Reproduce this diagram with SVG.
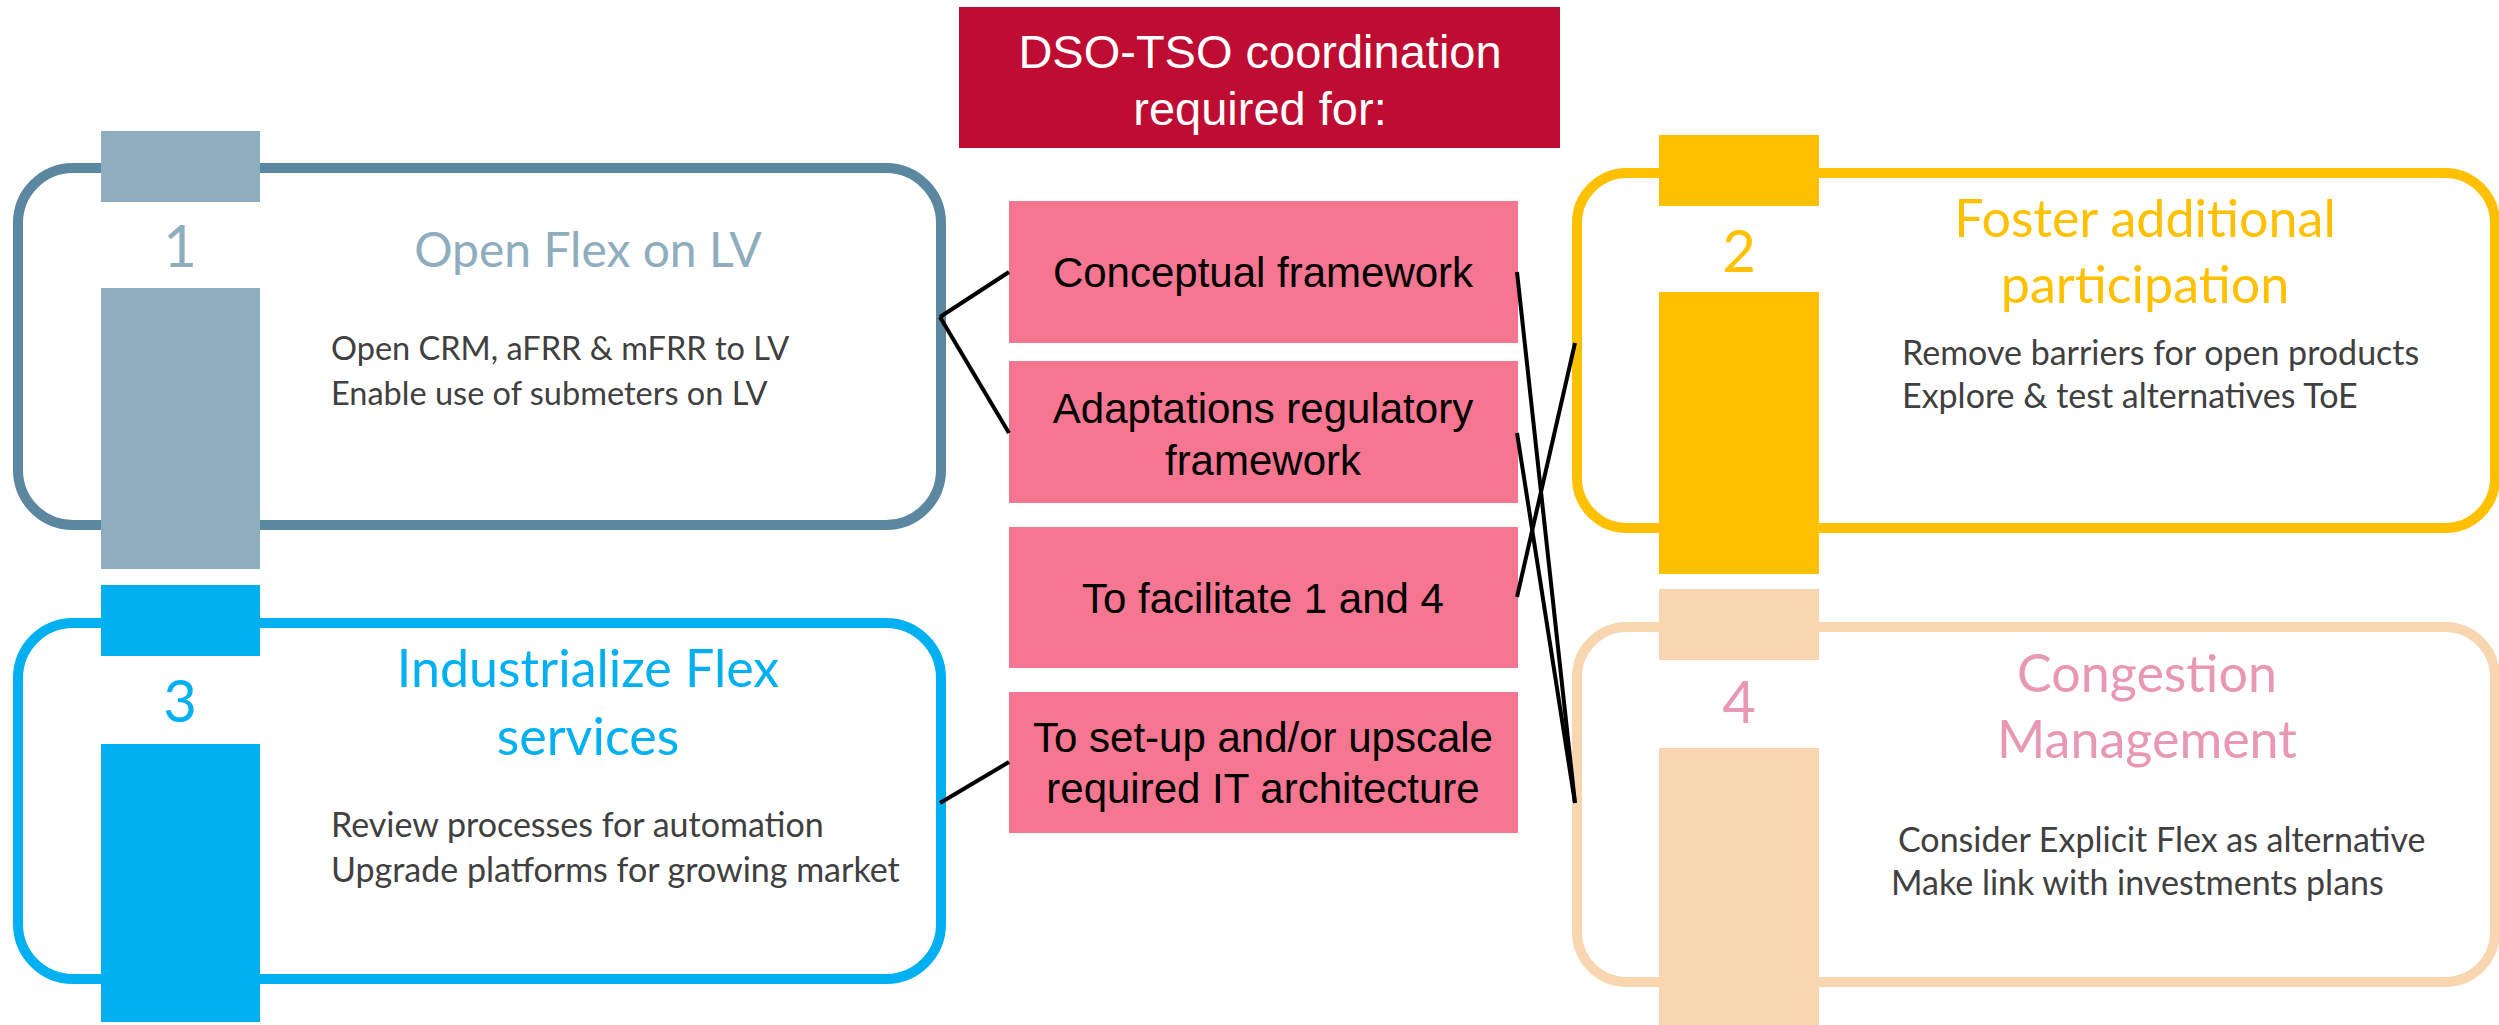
<svg xmlns="http://www.w3.org/2000/svg" width="2499" height="1025" viewBox="0 0 2499 1025">
<style>
.frame{fill:#fff;stroke-width:10}
.num{font-family:Lato,"Open Sans","Noto Sans",sans-serif;font-size:58px;text-anchor:middle}
.title{font-family:Lato,"Open Sans","Noto Sans",sans-serif;font-size:52px;text-anchor:middle}
.body{font-family:Lato,"Open Sans","Noto Sans",sans-serif;font-size:34px;fill:#404040}
.pink{fill:#F47690}
.ptext{font-family:"Liberation Sans",Arial,sans-serif;font-size:42px;text-anchor:middle;fill:#000}
.head{font-family:"Liberation Sans",Arial,sans-serif;font-size:47px;text-anchor:middle;fill:#fff}
.conn{stroke:#000;stroke-width:4;fill:none}
</style>
<rect width="2499" height="1025" fill="#fff"/>

<g id="header">
<rect x="959" y="7" width="601" height="141" fill="#BE0C32"/>
<text class="head" x="1260" y="68">DSO-TSO coordination</text>
<text class="head" x="1260" y="125">required for:</text>
</g>

<g id="box1">
<rect class="frame" x="18" y="168" width="923" height="357" rx="55" stroke="#5B87A0"/>
<rect x="101" y="131" width="159" height="71" fill="#8EADBE"/>
<rect x="101" y="288" width="159" height="281" fill="#8EADBE"/>
<text class="num" x="180" y="267" fill="#8EADBE">1</text>
<text class="title" x="588" y="267" fill="#8EADBE" style="font-size:48px">Open Flex on LV</text>
<text class="body" x="331" y="360" style="font-size:32.5px">Open CRM, aFRR &amp; mFRR to LV</text>
<text class="body" x="331" y="405" style="font-size:32.5px">Enable use of submeters on LV</text>
</g>

<g id="box3">
<rect class="frame" x="18" y="623" width="923" height="356" rx="55" stroke="#00B0F0"/>
<rect x="101" y="585" width="159" height="71" fill="#00B0F0"/>
<rect x="101" y="744" width="159" height="278" fill="#00B0F0"/>
<text class="num" x="180" y="722" fill="#00B0F0">3</text>
<text class="title" x="588" y="687" fill="#00B0F0">Industrialize Flex</text>
<text class="title" x="588" y="755" fill="#00B0F0">services</text>
<text class="body" x="331" y="837">Review processes for automation</text>
<text class="body" x="331" y="882">Upgrade platforms for growing market</text>
</g>

<g id="box2">
<rect class="frame" x="1577" y="173" width="918" height="355" rx="50" stroke="#FFC000"/>
<rect x="1659" y="135" width="160" height="71" fill="#FFC000"/>
<rect x="1659" y="292" width="160" height="282" fill="#FFC000"/>
<text class="num" x="1739" y="272" fill="#FFC000">2</text>
<text class="title" x="2145" y="237" fill="#FFC000">Foster additional</text>
<text class="title" x="2145" y="303" fill="#FFC000">participation</text>
<text class="body" x="1902" y="365">Remove barriers for open products</text>
<text class="body" x="1902" y="408">Explore &amp; test alternatives ToE</text>
</g>

<g id="box4">
<rect class="frame" x="1577" y="627" width="918" height="355" rx="50" stroke="#F8D6B0"/>
<rect x="1659" y="589" width="160" height="71" fill="#F8D6B0"/>
<rect x="1659" y="748" width="160" height="277" fill="#F8D6B0"/>
<text class="num" x="1739" y="723" fill="#E898B4">4</text>
<text class="title" x="2147" y="692" fill="#E898B4">Congestion</text>
<text class="title" x="2147" y="758" fill="#E898B4">Management</text>
<text class="body" x="1898" y="852">Consider Explicit Flex as alternative</text>
<text class="body" x="1891" y="895">Make link with investments plans</text>
</g>

<g id="item-conceptual">
<rect class="pink" x="1009" y="201" width="509" height="142"/>
<text class="ptext" x="1263" y="287">Conceptual framework</text>
</g>
<g id="item-regulatory">
<rect class="pink" x="1009" y="361" width="509" height="142"/>
<text class="ptext" x="1263" y="423">Adaptations regulatory</text>
<text class="ptext" x="1263" y="475">framework</text>
</g>
<g id="item-facilitate">
<rect class="pink" x="1009" y="527" width="509" height="141"/>
<text class="ptext" x="1263" y="613">To facilitate 1 and 4</text>
</g>
<g id="item-it">
<rect class="pink" x="1009" y="692" width="509" height="141"/>
<text class="ptext" x="1263" y="752">To set-up and/or upscale</text>
<text class="ptext" x="1263" y="803">required IT architecture</text>
</g>

<g id="connectors">
<line class="conn" x1="940" y1="317" x2="1009" y2="272"/>
<line class="conn" x1="940" y1="317" x2="1009" y2="433"/>
<line class="conn" x1="940" y1="803" x2="1009" y2="762"/>
<line class="conn" x1="1517" y1="272" x2="1575" y2="803"/>
<line class="conn" x1="1517" y1="433" x2="1575" y2="803"/>
<line class="conn" x1="1517" y1="597" x2="1575" y2="343"/>
</g>
</svg>
